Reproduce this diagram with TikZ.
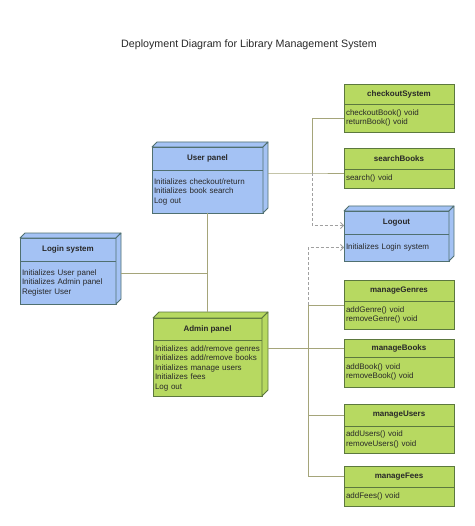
\documentclass[tikz,border=0pt]{standalone}
\usepackage{fontspec}
\setmainfont{Liberation Sans}
\usetikzlibrary{arrows.meta}
\definecolor{bluefill}{RGB}{164,194,244}
\definecolor{blueline}{RGB}{80,112,112}
\definecolor{greenfill}{RGB}{183,217,97}
\definecolor{greenline}{RGB}{92,120,62}
\definecolor{linkcol}{RGB}{165,165,122}
\definecolor{depcol}{RGB}{160,160,160}
\definecolor{textcol}{RGB}{40,40,40}
\tikzset{
  head/.style={draw, anchor=north west, inner sep=0pt, outer sep=0pt, text=textcol, font=\bfseries\fontsize{8}{9.5}\selectfont},
  body/.style={draw, anchor=north west, inner xsep=2pt, inner ysep=0pt, outer sep=0pt, align=left, text=textcol, font=\fontsize{8}{9.5}\selectfont},
  bnode/.style={fill=bluefill, draw=blueline, line width=0.8pt},
  gnode/.style={fill=greenfill, draw=greenline, line width=0.8pt},
  face/.style={line join=round},
  link/.style={draw=linkcol, line width=0.8pt},
  dep/.style={draw=depcol, line width=0.8pt, dash pattern=on 3pt off 2pt, -{Straight Barb[length=3pt,width=6pt]}}
}
\begin{document}
\begin{tikzpicture}[x=1pt,y=-1pt]
\useasboundingbox (0,0) rectangle (474,526);
\node[text=textcol, font=\fontsize{10.7}{13}\selectfont] (title) at (249,45) {Deployment Diagram for Library Management System};
% user panel
\node[head, bnode, minimum width=111pt, minimum height=23pt] (user) at (152,147) {User panel};
\node[body, bnode, text width=107pt, minimum height=43pt] (userb) at (user.south west) {Initializes checkout/return\\Initializes book search\\Log out};
\draw[face, bnode] (user.north west) -- ++(5,-5) -- ([shift={(5,-5)}]user.north east) -- (user.north east) -- cycle;
\draw[face, bnode] (user.north east) -- ([shift={(5,-5)}]user.north east) -- ([shift={(5,-5)}]userb.south east) -- (userb.south east) -- cycle;
% login system
\node[head, bnode, minimum width=96pt, minimum height=23pt] (login) at (20,238) {Login system};
\node[body, bnode, text width=92pt, minimum height=43pt] (loginb) at (login.south west) {Initializes User panel\\Initializes Admin panel\\Register User};
\draw[face, bnode] (login.north west) -- ++(5,-5) -- ([shift={(5,-5)}]login.north east) -- (login.north east) -- cycle;
\draw[face, bnode] (login.north east) -- ([shift={(5,-5)}]login.north east) -- ([shift={(5,-5)}]loginb.south east) -- (loginb.south east) -- cycle;
% logout
\node[head, bnode, minimum width=105pt, minimum height=23pt] (logout) at (344,211) {Logout};
\node[body, bnode, text width=101pt, minimum height=27pt] (logoutb) at (logout.south west) {Initializes Login system};
\draw[face, bnode] (logout.north west) -- ++(5,-5) -- ([shift={(5,-5)}]logout.north east) -- (logout.north east) -- cycle;
\draw[face, bnode] (logout.north east) -- ([shift={(5,-5)}]logout.north east) -- ([shift={(5,-5)}]logoutb.south east) -- (logoutb.south east) -- cycle;
% admin panel
\node[head, gnode, minimum width=109pt, minimum height=22pt] (admin) at (153,318) {Admin panel};
\node[body, gnode, text width=105pt, minimum height=56pt] (adminb) at (admin.south west) {Initializes add/remove genres\\Initializes add/remove books\\Initializes manage users\\Initializes fees\\Log out};
\draw[face, gnode] (admin.north west) -- ++(6,-6) -- ([shift={(6,-6)}]admin.north east) -- (admin.north east) -- cycle;
\draw[face, gnode] (admin.north east) -- ([shift={(6,-6)}]admin.north east) -- ([shift={(6,-6)}]adminb.south east) -- (adminb.south east) -- cycle;
% classes
\node[head, gnode, minimum width=110pt, minimum height=20pt] (chk) at (344,84) {checkoutSystem};
\node[body, gnode, text width=106pt, minimum height=28pt] (chkb) at (chk.south west) {checkoutBook() void\\returnBook() void};
\node[head, gnode, minimum width=110pt, minimum height=21pt] (sb) at (344,148) {searchBooks};
\node[body, gnode, text width=106pt, minimum height=19pt] (sbb) at (sb.south west) {search() void};
\node[head, gnode, minimum width=110pt, minimum height=21pt] (mg) at (344,280) {manageGenres};
\node[body, gnode, text width=106pt, minimum height=28pt] (mgb) at (mg.south west) {addGenre() void\\removeGenre() void};
\node[head, gnode, minimum width=110pt, minimum height=18pt] (mb) at (344,339) {manageBooks};
\node[body, gnode, text width=106pt, minimum height=30pt] (mbb) at (mb.south west) {addBook() void\\removeBook() void};
\node[head, gnode, minimum width=110pt, minimum height=22pt] (mu) at (344,404) {manageUsers};
\node[body, gnode, text width=106pt, minimum height=27pt] (mub) at (mu.south west) {addUsers() void\\removeUsers() void};
\node[head, gnode, minimum width=110pt, minimum height=21pt] (mf) at (344,466) {manageFees};
\node[body, gnode, text width=106pt, minimum height=19pt] (mfb) at (mf.south west) {addFees() void};
% links
\coordinate (j1) at (312,173);
\coordinate (j2) at (308,305);
\draw[link]([shift={(5,3)}]userb.north east) -- (j1) -- (j1 -| sbb.west);
\draw[link](chkb.west) -| (j1);
\draw[dep](j1) |- ([yshift=-3pt]logout.west);
\draw[link]([shift={(5,12)}]loginb.north east) coordinate (l1) -- (l1 -| userb.south);
\draw[link](userb.south) -- ([yshift=6pt]admin.north);
\draw[link]([shift={(6,8)}]adminb.north east) -- (mb.west);
\draw[link](j2 -| mgb.west) -- (j2) |- (mf.west);
\draw[link](mu.west) -- (mu.west -| j2);
\draw[dep](j2) |- (logoutb.west);
\end{tikzpicture}
\end{document}
